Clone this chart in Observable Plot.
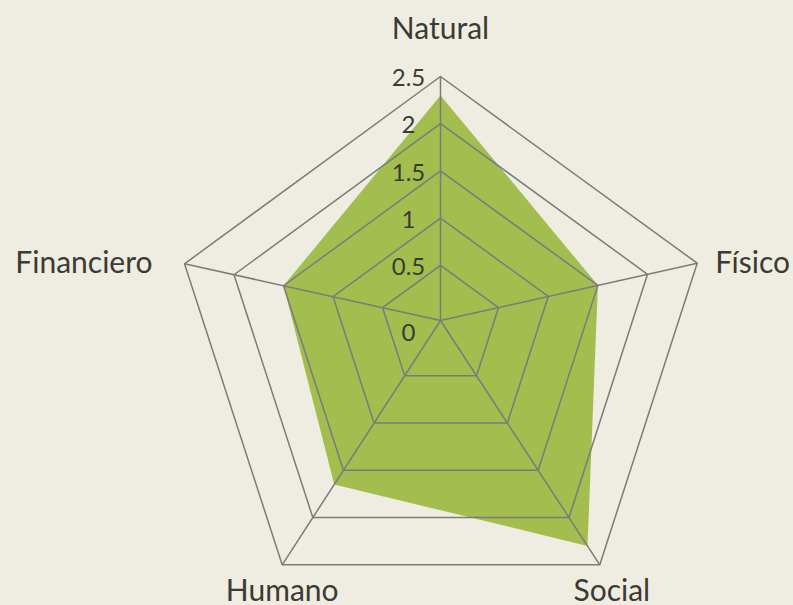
<!DOCTYPE html>
<html>
<head>
<meta charset="utf-8">
<script src="https://cdn.jsdelivr.net/npm/d3@7"></script>
<script src="https://cdn.jsdelivr.net/npm/@observablehq/plot@0.6"></script>
<style>
  html, body { margin: 0; padding: 0; background: #efece1; }
  #chart { width: 793px; height: 605px; overflow: hidden; }
</style>
</head>
<body>
<div id="chart"></div>
<script>
// ---- data ----
const categories = ["Natural", "Físico", "Social", "Humano", "Financiero"];
const values = [2.3, 1.5, 2.3, 1.65, 1.5];
const ringValues = [0.5, 1, 1.5, 2, 2.5];
const tickLabels = ["0", "0.5", "1", "1.5", "2", "2.5"];
const tickValues = [0, 0.5, 1, 1.5, 2, 2.5];

// ---- radar layout (the chart's own projection) ----
const maxValue = 2.5;
const axisDir = [[0, 244], [256.7, 57.3], [159.3, -244.3], [-158.3, -244.3], [-256, 56.7]];
const frac = v => (8 + 94.4 * v) / 244; // radial scale fraction of outer ring
const pt = (i, v) => ({x: axisDir[i][0] * frac(v), y: axisDir[i][1] * frac(v)});

const polygon = categories.map((c, i) => ({cat: c, ...pt(i, values[i])}));
polygon.push(polygon[0]);

const rings = ringValues.flatMap(r => {
  const pts = categories.map((c, i) => ({ring: r, ...pt(i, r)}));
  pts.push(pts[0]);
  return pts;
});

const spokes = categories.map((c, i) => {
  const p = pt(i, maxValue);
  return {cat: c, x1: 0, y1: 0, x2: p.x, y2: p.y};
});

const ticksData = tickValues.map((v, i) => ({label: tickLabels[i], v, x: 0, y: v === 0 ? 0 : pt(0, v).y}));

const outer = categories.map((c, i) => ({cat: c, ...pt(i, maxValue)}));

const font = "Lato, 'Open Sans', sans-serif";
const textColor = "#3b3a35";
const gridColor = "#7b7b7b";

function label(i, opts) {
  return Plot.text([outer[i]], {x: "x", y: "y", text: "cat", fontSize: 30, fontFamily: font, fill: textColor, lineAnchor: "bottom", ...opts});
}

const chart = Plot.plot({
  width: 793,
  height: 605,
  margin: 0,
  x: {domain: [-440, 353], range: [0, 793], axis: null},
  y: {domain: [-285, 320], range: [605, 0], axis: null},
  style: {background: "#efece1", overflow: "visible"},
  marks: [
    Plot.line(polygon, {x: "x", y: "y", fill: "#a3bd4f", stroke: "none", curve: "linear-closed"}),
    Plot.line(rings, {x: "x", y: "y", z: "ring", stroke: gridColor, strokeWidth: 1.5}),
    Plot.link(spokes, {x1: "x1", y1: "y1", x2: "x2", y2: "y2", stroke: gridColor, strokeWidth: 1.5}),
    Plot.text(ticksData.filter(d => d.v > 0), {x: "x", y: "y", text: "label", dx: -32, dy: 2, fontSize: 24, fontFamily: font, fill: textColor}),
    Plot.text(ticksData.filter(d => d.v === 0), {x: "x", y: "y", text: "label", dx: -32, dy: 13, fontSize: 24, fontFamily: font, fill: textColor}),
    label(0, {textAnchor: "middle", dy: -38}),
    label(1, {textAnchor: "start", dx: 18, dy: 10}),
    label(2, {textAnchor: "middle", dx: 12, dy: 36}),
    label(3, {textAnchor: "middle", dx: 0, dy: 36}),
    label(4, {textAnchor: "end", dx: -32, dy: 9})
  ]
});
document.getElementById("chart").append(chart);
</script>
</body>
</html>
